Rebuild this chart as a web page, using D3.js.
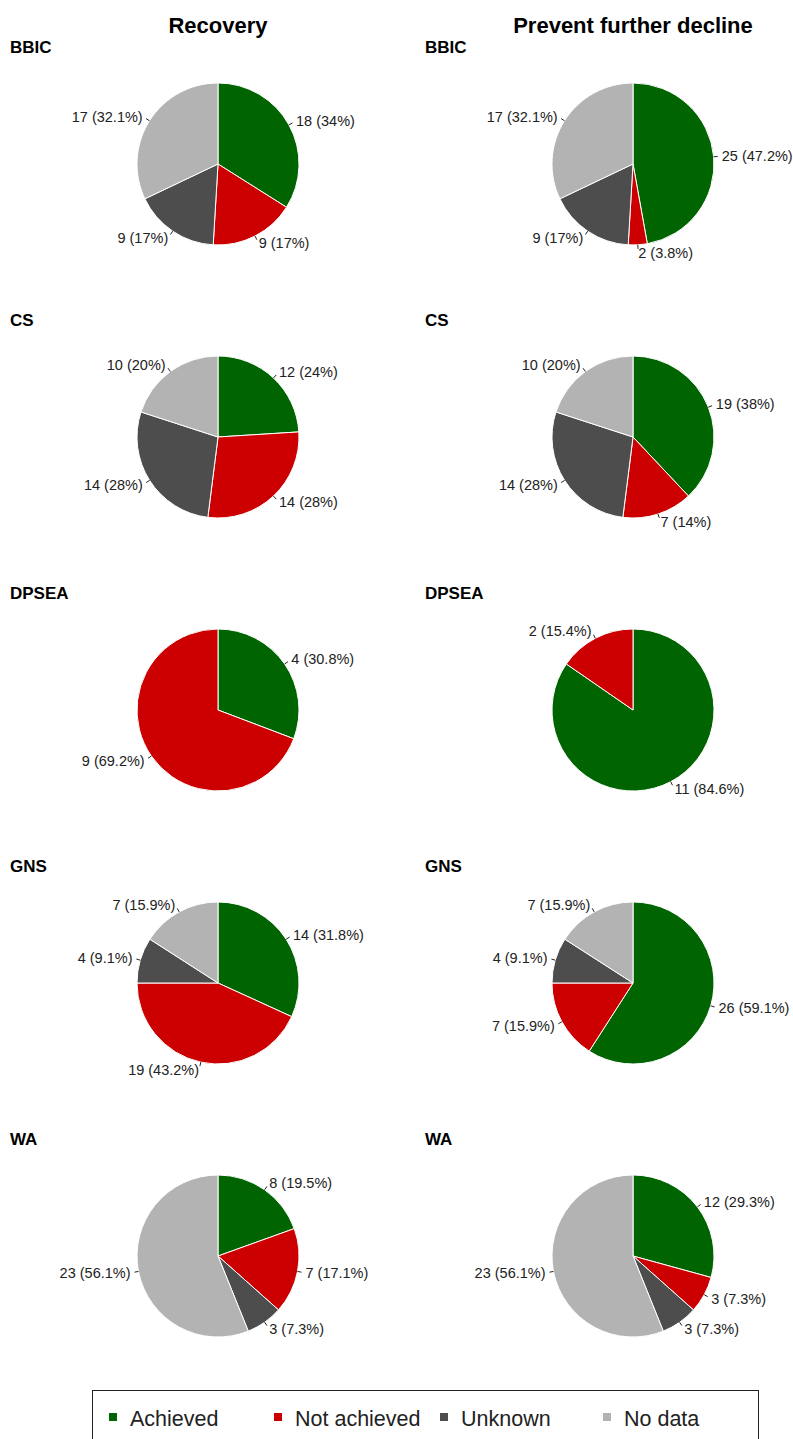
<!DOCTYPE html>
<html>
<head>
<meta charset="utf-8">
<script src="https://cdn.jsdelivr.net/npm/d3@7"></script>
<style>
  body { margin: 0; background: #fff; }
  svg { font-family: "Liberation Sans", Arial, sans-serif; }
</style>
</head>
<body>
<svg id="chart" width="793" height="1439"></svg>
<script>
// Outcome categories and colours
const categories = ['Achieved', 'Not achieved', 'Unknown', 'No data'];
const colours = ['#006400', '#CC0000', '#4D4D4D', '#B3B3B3'];

// Programmes (rows) and objectives (columns)
const programmes = ['BBIC', 'CS', 'DPSEA', 'GNS', 'WA'];
const objectives = ['Recovery', 'Prevent further decline'];

// Counts per programme, in category order
const recovery = [
  [18, 9, 9, 17],
  [12, 14, 14, 10],
  [4, 9, 0, 0],
  [14, 19, 4, 7],
  [8, 7, 3, 23]
];
const preventDecline = [
  [25, 2, 9, 17],
  [19, 7, 14, 10],
  [11, 2, 0, 0],
  [26, 7, 4, 7],
  [12, 3, 3, 23]
];
const seriesByObjective = [recovery, preventDecline];

const svg = d3.select('#chart');
const radius = 81;

const colX = d3.scalePoint().domain(objectives).range([218, 633]);
const rowY = d3.scalePoint().domain(programmes).range([164, 1256]);
const colour = d3.scaleOrdinal().domain(categories).range(colours);

const pie = d3.pie().sort(null).value(d => d.value);
const arc = d3.arc().innerRadius(0).outerRadius(radius);

const fmtPct = v => +(v * 100).toFixed(1) + '%';

// Column titles
objectives.forEach(obj => {
  svg.append('text')
    .attr('x', colX(obj))
    .attr('y', 33)
    .attr('text-anchor', 'middle')
    .attr('font-size', 22)
    .attr('font-weight', 'bold')
    .text(obj);
});

objectives.forEach((obj, oi) => {
  programmes.forEach((prog, pi) => {
    const cx = colX(obj), cy = rowY(prog);
    const left = oi === 0 ? 10 : 425;

    // Row label
    svg.append('text')
      .attr('x', left)
      .attr('y', cy - 111)
      .attr('font-size', 17)
      .attr('font-weight', 'bold')
      .text(prog);

    const counts = seriesByObjective[oi][pi];
    const total = d3.sum(counts);
    const data = counts.map((v, i) => ({ cat: categories[i], value: v }));
    const arcs = pie(data).filter(d => d.data.value > 0);

    const g = svg.append('g').attr('transform', `translate(${cx},${cy})`);

    g.selectAll('path.slice')
      .data(arcs)
      .enter()
      .append('path')
      .attr('class', 'slice')
      .attr('d', arc)
      .attr('fill', d => colour(d.data.cat))
      .attr('stroke', '#fff')
      .attr('stroke-width', 1);

    // Leader ticks (1.0 to 1.05 radius) and labels at 1.1 radius
    arcs.forEach(d => {
      const a = (d.startAngle + d.endAngle) / 2;
      const sx = Math.sin(a), sy = -Math.cos(a);
      g.append('line')
        .attr('x1', sx * radius).attr('y1', sy * radius)
        .attr('x2', sx * radius * 1.05).attr('y2', sy * radius * 1.05)
        .attr('stroke', '#222')
        .attr('stroke-width', 1);
      g.append('text')
        .attr('x', sx * radius * 1.1)
        .attr('y', sy * radius * 1.1)
        .attr('dy', '0.35em')
        .attr('text-anchor', sx >= 0 ? 'start' : 'end')
        .attr('font-size', 14.5)
        .attr('fill', '#222')
        .text(`${d.data.value} (${fmtPct(d.data.value / total)})`);
    });
  });
});

// Legend
const legend = svg.append('g');
legend.append('rect')
  .attr('x', 92.5).attr('y', 1390.5)
  .attr('width', 666).attr('height', 60)
  .attr('fill', 'none')
  .attr('stroke', '#222')
  .attr('stroke-width', 1);

const legendX = d3.scaleOrdinal().domain(categories).range([109, 274, 440, 603]);
categories.forEach(cat => {
  legend.append('rect')
    .attr('x', legendX(cat)).attr('y', 1413)
    .attr('width', 8).attr('height', 8)
    .attr('fill', colour(cat));
  legend.append('text')
    .attr('x', legendX(cat) + 21)
    .attr('y', 1418)
    .attr('dy', '0.35em')
    .attr('font-size', 21.5)
    .attr('fill', '#222')
    .text(cat);
});
</script>
</body>
</html>
